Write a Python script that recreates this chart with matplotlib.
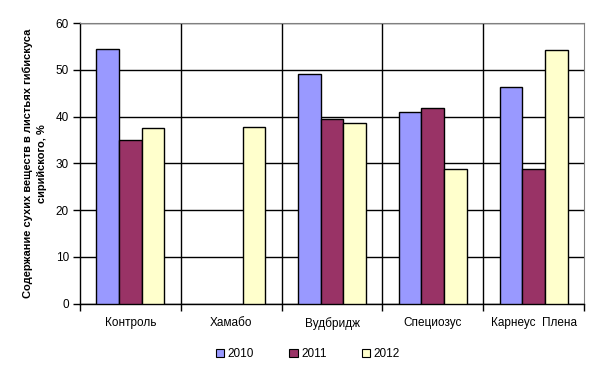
import matplotlib
matplotlib.use("Agg")
import matplotlib.pyplot as plt
import numpy as np
from matplotlib.patches import Patch

categories = ["Контроль", "Хамабо", "Вудбридж", "Специозус", "Карнеус  Плена"]
years = ["2010", "2011", "2012"]
v2010 = [54.4, np.nan, 49.1, 41.1, 46.3]
v2011 = [35.1, np.nan, 39.6, 41.8, 28.7]
v2012 = [37.5, 37.9, 38.6, 28.9, 54.2]
colors = ["#9999FF", "#993366", "#FFFFCC"]

plt.rcParams['font.family'] = ['Liberation Sans', 'DejaVu Sans']

fig = plt.figure(figsize=(5.99, 3.69), dpi=100)
ax = fig.add_axes([80/599, 1-303.5/369, (584-80)/599, (303.5-23.3)/369])

x = np.arange(len(categories))
w = 0.225
for i, (vals, c) in enumerate(zip([v2010, v2011, v2012], colors)):
    ax.bar(x + (i-1)*w, vals, w, color=c, edgecolor="black", linewidth=1.0, zorder=3)

ax.set_xlim(-0.5, len(categories)-0.5)
ax.set_ylim(0, 60)
ax.set_yticks(range(0, 61, 10))
ax.yaxis.grid(True, color="black", linewidth=1.0, zorder=0)
for b in np.arange(0.5, len(categories)-0.5, 1):
    ax.axvline(b, color="black", linewidth=1.0, zorder=0)

ax.set_xticks(np.arange(-0.5, len(categories)), minor=False)
ax.set_xticklabels([])
ax.set_xticks(x, minor=True)
ax.set_xticklabels(categories, minor=True, fontsize=8.5)
ax.tick_params(axis="x", which="major", length=5, width=1, direction="out", color="black")
ax.tick_params(axis="x", which="minor", length=0, pad=10)
ax.tick_params(axis="y", length=5, width=1, labelsize=8.5, pad=3)

ax.spines["top"].set_color("#808080")
ax.spines["right"].set_color("#808080")
ax.spines["left"].set_linewidth(1.0)
ax.spines["bottom"].set_linewidth(1.0)

ax.set_ylabel("Содержание сухих веществ в листьях гибискуса\nсирийского, %", fontsize=8,
              fontweight="bold", labelpad=6, linespacing=1.5)

handles = [Patch(facecolor=c, edgecolor="black", linewidth=0.8) for c in colors]
fig.legend(handles, years, loc="center", bbox_to_anchor=(308/599, 1-354/369), ncol=3,
           frameon=False, fontsize=8.5, handlelength=0.7, handleheight=0.7,
           handletextpad=0.3, columnspacing=3.0)

fig.savefig("out.png", dpi=100)
